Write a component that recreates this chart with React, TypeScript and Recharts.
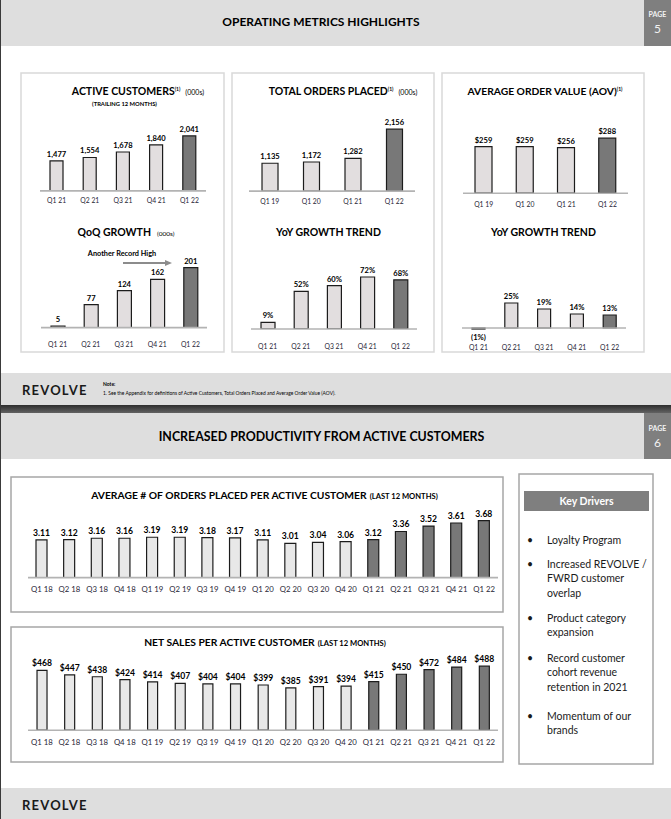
import React from 'react';
import { BarChart, Bar, XAxis, YAxis, Cell, LabelList, ReferenceLine } from 'recharts';

const FONT = "Lato, 'Open Sans', sans-serif";

// ---------- DATA ----------
const activeQuarters = ['Q1 21', 'Q2 21', 'Q3 21', 'Q4 21', 'Q1 22'];
const activeCustomers = [1477, 1554, 1678, 1840, 2041];
const orderQuarters = ['Q1 19', 'Q1 20', 'Q1 21', 'Q1 22'];
const totalOrders = [1135, 1172, 1282, 2156];
const aovValues = [259, 259, 256, 288];
const qoqGrowth = [5, 77, 124, 162, 201];
const customerYoY = [9, 52, 60, 72, 68];
const aovYoY = [-1, 25, 19, 14, 13];
const longQuarters = ['Q1 18', 'Q2 18', 'Q3 18', 'Q4 18', 'Q1 19', 'Q2 19', 'Q3 19', 'Q4 19', 'Q1 20', 'Q2 20', 'Q3 20', 'Q4 20', 'Q1 21', 'Q2 21', 'Q3 21', 'Q4 21', 'Q1 22'];
const ordersPerCustomer = [3.11, 3.12, 3.16, 3.16, 3.19, 3.19, 3.18, 3.17, 3.11, 3.01, 3.04, 3.06, 3.12, 3.36, 3.52, 3.61, 3.68];
const netSalesPerCustomer = [468, 447, 438, 424, 414, 407, 404, 404, 399, 385, 391, 394, 415, 450, 472, 484, 488];
const keyDrivers = [
  ['Loyalty Program'],
  ['Increased REVOLVE /', 'FWRD customer', 'overlap'],
  ['Product category', 'expansion'],
  ['Record customer', 'cohort revenue', 'retention in 2021'],
  ['Momentum of our', 'brands'],
];
const noteText = '1. See the Appendix for definitions of Active Customers, Total Orders Placed and Average Order Value (AOV).';

// ---------- FORMATTERS ----------
const fmtComma = (v: number) => v.toLocaleString('en-US');
const fmtDollar = (v: number) => '$' + v.toLocaleString('en-US');
const fmtPct = (v: number) => (v < 0 ? `(${Math.abs(v)}%)` : `${v}%`);
const fmtPlain = (v: number) => String(v);
const fmt2 = (v: number) => v.toFixed(2);

// ---------- LAYOUT ----------
const driverStartY = [540, 564, 618, 658, 716];
const driverLineH = 14.4;

type Spec = {
  labels: string[];
  values: number[];
  fmt: (v: number) => string;
  darkFrom: number;
  x0: number;
  x1: number;
  baseY: number;
  base: number;
  min: number;
  max: number;
  ppu: number;
  barSize: number;
  tickY: number;
  tickFont: number;
  valueFont: number;
  light: string;
};

function MiniBar(s: Spec) {
  const data = s.labels.map((l, i) => ({ label: l, value: s.values[i], text: s.fmt(s.values[i]) }));
  const plotTop = s.baseY - (s.max - s.base) * s.ppu;
  const plotBottom = s.baseY + (s.base - s.min) * s.ppu;
  const mt = 30;
  const top = plotTop - mt;
  const bottomEdge = Math.max(plotBottom + 2, s.tickY + 10);
  const height = bottomEdge - top;
  const xh = bottomEdge - plotBottom;
  const width = s.x1 - s.x0;
  const renderTick = (p: any) => (
    <text
      x={p.x}
      y={s.tickY - top + s.tickFont * 0.36}
      textAnchor="middle"
      fontSize={s.tickFont}
      fill="#1f2535"
      fontFamily={FONT}
    >
      {p.payload.value}
    </text>
  );
  const renderLabel = (p: any) => {
    const vb = p.viewBox || p;
    const x = Number(vb.x ?? p.x);
    const y = Number(vb.y ?? p.y);
    const w = Number(vb.width ?? p.width);
    const h = Number(vb.height ?? p.height);
    const idx = p.index;
    const val = s.values[idx];
    const t = Math.min(y, y + h);
    const b = Math.max(y, y + h);
    const ty = val < 0 ? b + 11 : t - 4;
    return (
      <text
        x={x + w / 2}
        y={ty}
        textAnchor="middle"
        fontSize={s.valueFont}
        fontWeight={700}
        fill="#000"
        fontFamily={FONT}
      >
        {data[idx].text}
      </text>
    );
  };
  return (
    <div style={{ position: 'absolute', left: s.x0, top, width, height }}>
      <BarChart width={width} height={height} data={data} margin={{ top: mt, right: 0, left: 0, bottom: 0 }}>
        <XAxis
          dataKey="label"
          axisLine={false}
          tickLine={false}
          tickSize={0}
          tickMargin={0}
          height={xh}
          interval={0}
          tick={renderTick}
        />
        <YAxis hide type="number" domain={[s.min, s.max]} allowDataOverflow />
        <ReferenceLine y={s.base} stroke="#b3b3b3" strokeWidth={1.6} ifOverflow="visible" />
        <Bar dataKey="value" barSize={s.barSize} isAnimationActive={false} stroke="#1c1c1c" strokeWidth={1.2}>
          {data.map((d, i) => (
            <Cell key={d.label} fill={i >= s.darkFrom ? '#787878' : s.light} />
          ))}
          <LabelList dataKey="text" content={renderLabel} />
        </Bar>
      </BarChart>
    </div>
  );
}

function T({ x, y, size, bold, anchor = 'start', fill = '#000', children, ls }: any) {
  return (
    <text
      x={x}
      y={y + size * 0.36}
      fontSize={size}
      fontWeight={bold ? 700 : 400}
      textAnchor={anchor}
      fill={fill}
      fontFamily={FONT}
      letterSpacing={ls}
    >
      {children}
    </text>
  );
}

const LIGHT_TOP = '#e2dedf';
const LIGHT_BOTTOM = '#e8e8e8';

export default function App() {
  return (
    <div style={{ position: 'absolute', left: 0, top: 0, width: 671, height: 819, background: '#fff', overflow: 'hidden' }}>
      <svg width={671} height={819} style={{ position: 'absolute', left: 0, top: 0 }}>
        <defs>
          <linearGradient id="sep" x1="0" y1="0" x2="0" y2="1">
            <stop offset="0" stopColor="#2e2e2e" />
            <stop offset="1" stopColor="#626262" />
          </linearGradient>
        </defs>
        {/* Slide 5 header */}
        <rect x={0} y={0} width={671} height={46} fill="#dedede" />
        <rect x={644} y={0} width={27} height={46} fill="#7f7f7f" />
        <T x={657.5} y={14} size={7} bold anchor="middle" fill="#f2f2f2">PAGE</T>
        <T x={657.5} y={29} size={12} anchor="middle" fill="#f2f2f2">5</T>
        <T x={321} y={22} size={12} bold anchor="middle">OPERATING METRICS HIGHLIGHTS</T>

        {/* Slide 5 panels */}
        <rect x={21} y={73} width={203} height={279} fill="none" stroke="#d9d9d9" strokeWidth={1.5} />
        <rect x={232} y={73} width={202} height={279} fill="none" stroke="#d9d9d9" strokeWidth={1.5} />
        <rect x={442} y={73} width={202} height={279} fill="none" stroke="#d9d9d9" strokeWidth={1.5} />

        <text x={138} y={94.8} textAnchor="middle" fontFamily={FONT} fill="#000">
          <tspan fontSize={10.5} fontWeight={700}>ACTIVE CUSTOMERS</tspan>
          <tspan fontSize={5} fontWeight={700} dy={-4}>(1)</tspan>
          <tspan fontSize={7} dy={4} dx={5}>(000s)</tspan>
        </text>
        <T x={124.5} y={104} size={5.8} bold anchor="middle">(TRAILING 12 MONTHS)</T>

        <text x={343} y={94.8} textAnchor="middle" fontFamily={FONT} fill="#000">
          <tspan fontSize={10.5} fontWeight={700}>TOTAL ORDERS PLACED</tspan>
          <tspan fontSize={5} fontWeight={700} dy={-4}>(1)</tspan>
          <tspan fontSize={7} dy={4} dx={5}>(000s)</tspan>
        </text>

        <text x={545} y={94.8} textAnchor="middle" fontFamily={FONT} fill="#000">
          <tspan fontSize={10.3} fontWeight={700}>AVERAGE ORDER VALUE (AOV)</tspan>
          <tspan fontSize={5} fontWeight={700} dy={-4}>(1)</tspan>
        </text>

        <text x={126} y={235.8} textAnchor="middle" fontFamily={FONT} fill="#000">
          <tspan fontSize={10.5} fontWeight={700}>QoQ GROWTH</tspan>
          <tspan fontSize={6.5} dx={6}>(000s)</tspan>
        </text>
        <T x={122} y={253} size={7.3} bold anchor="middle">Another Record High</T>
        <line x1={123} y1={263} x2={166} y2={263} stroke="#8c8c8c" strokeWidth={2} />
        <polygon points="165,260 172,263 165,266" fill="#8c8c8c" />

        <T x={328.5} y={232} size={10.5} bold anchor="middle">YoY GROWTH TREND</T>
        <T x={543.5} y={232} size={10.5} bold anchor="middle">YoY GROWTH TREND</T>

        {/* Slide 5 footer */}
        <rect x={0} y={373} width={671} height={32} fill="#dedede" />
        <T x={22} y={390} size={13} bold anchor="start" fill="#1a1a1a" ls={1.2}>REVOLVE</T>
        <T x={103} y={384} size={5} bold anchor="start">Note:</T>
        <T x={103} y={393} size={4.9} anchor="start">{noteText}</T>

        {/* Separator */}
        <rect x={0} y={405} width={671} height={8} fill="url(#sep)" />

        {/* Slide 6 header */}
        <rect x={0} y={413} width={671} height={46} fill="#dedede" />
        <rect x={644} y={413} width={27} height={46} fill="#7f7f7f" />
        <T x={657.5} y={428} size={7} bold anchor="middle" fill="#f2f2f2">PAGE</T>
        <T x={657.5} y={443} size={12} anchor="middle" fill="#f2f2f2">6</T>
        <T x={321.5} y={437} size={12.4} bold anchor="middle">INCREASED PRODUCTIVITY FROM ACTIVE CUSTOMERS</T>

        {/* Slide 6 panels */}
        <rect x={11} y={477} width={492} height={135} fill="none" stroke="#a6a6a6" strokeWidth={1.5} />
        <rect x={11} y={627} width={492} height={135} fill="none" stroke="#a6a6a6" strokeWidth={1.5} />
        <rect x={519} y={474} width={134} height={290} fill="none" stroke="#a6a6a6" strokeWidth={1.5} />

        <text x={264.5} y={498.6} textAnchor="middle" fontFamily={FONT} fill="#000">
          <tspan fontSize={10.3} fontWeight={700}>AVERAGE # OF ORDERS PLACED PER ACTIVE CUSTOMER</tspan>
          <tspan fontSize={7.6} fontWeight={700} dx={3}>(LAST 12 MONTHS)</tspan>
        </text>
        <text x={265} y={645.6} textAnchor="middle" fontFamily={FONT} fill="#000">
          <tspan fontSize={10.3} fontWeight={700}>NET SALES PER ACTIVE CUSTOMER</tspan>
          <tspan fontSize={7.6} fontWeight={700} dx={3}>(LAST 12 MONTHS)</tspan>
        </text>

        {/* Key drivers */}
        <rect x={524} y={491} width={125} height={20} fill="#7f7f7f" />
        <T x={586.5} y={501} size={10.5} bold anchor="middle" fill="#fff">Key Drivers</T>
        {keyDrivers.map((lines, i) => (
          <g key={i}>
            <T x={530} y={driverStartY[i]} size={10.5} anchor="middle" fill="#1a1a1a">•</T>
            {lines.map((ln, j) => (
              <T key={j} x={547} y={driverStartY[i] + j * driverLineH} size={10.5} anchor="start" fill="#1a1a1a">
                {ln}
              </T>
            ))}
          </g>
        ))}

        {/* Slide 6 footer */}
        <rect x={0} y={788} width={671} height={31} fill="#dedede" />
        <T x={22} y={805} size={13} bold anchor="start" fill="#1a1a1a" ls={1.2}>REVOLVE</T>

        {/* left edge */}
        <line x1={0.5} y1={0} x2={0.5} y2={819} stroke="#3a3a3a" strokeWidth={1} />
      </svg>

      <MiniBar labels={activeQuarters} values={activeCustomers} fmt={fmtComma} darkFrom={4}
        x0={40} x1={206} baseY={191} base={800} min={800} max={2400} ppu={0.0443}
        barSize={13} tickY={201} tickFont={6.8} valueFont={7.6} light={LIGHT_TOP} />
      <MiniBar labels={orderQuarters} values={totalOrders} fmt={fmtComma} darkFrom={3}
        x0={249} x1={415} baseY={191} base={300} min={300} max={2400} ppu={0.0334}
        barSize={16} tickY={201} tickFont={6.8} valueFont={7.6} light={LIGHT_TOP} />
      <MiniBar labels={orderQuarters} values={aovValues} fmt={fmtDollar} darkFrom={3}
        x0={463} x1={628} baseY={193} base={100} min={100} max={340} ppu={0.2926}
        barSize={17} tickY={204} tickFont={6.8} valueFont={7.6} light={LIGHT_TOP} />
      <MiniBar labels={activeQuarters} values={qoqGrowth} fmt={fmtPlain} darkFrom={4}
        x0={41} x1={207} baseY={328} base={0} min={0} max={230} ppu={0.2985}
        barSize={14} tickY={345} tickFont={6.8} valueFont={7.6} light={LIGHT_TOP} />
      <MiniBar labels={activeQuarters} values={customerYoY} fmt={fmtPct} darkFrom={4}
        x0={251} x1={417} baseY={329} base={0} min={0} max={90} ppu={0.722}
        barSize={14} tickY={346.5} tickFont={6.8} valueFont={7.6} light={LIGHT_TOP} />
      <MiniBar labels={activeQuarters} values={aovYoY} fmt={fmtPct} darkFrom={4}
        x0={462} x1={626} baseY={328} base={0} min={-8} max={40} ppu={1.0}
        barSize={13} tickY={347.5} tickFont={6.8} valueFont={7.6} light={LIGHT_TOP} />
      <MiniBar labels={longQuarters} values={ordersPerCustomer} fmt={fmt2} darkFrom={12}
        x0={28} x1={498} baseY={578} base={2} min={2} max={4.2} ppu={33.9}
        barSize={11} tickY={589.5} tickFont={7.8} valueFont={8.6} light={LIGHT_BOTTOM} />
      <MiniBar labels={longQuarters} values={netSalesPerCustomer} fmt={fmtDollar} darkFrom={12}
        x0={28} x1={498} baseY={730} base={185} min={185} max={560} ppu={0.2112}
        barSize={10} tickY={742} tickFont={7.8} valueFont={8.6} light={LIGHT_BOTTOM} />
    </div>
  );
}
